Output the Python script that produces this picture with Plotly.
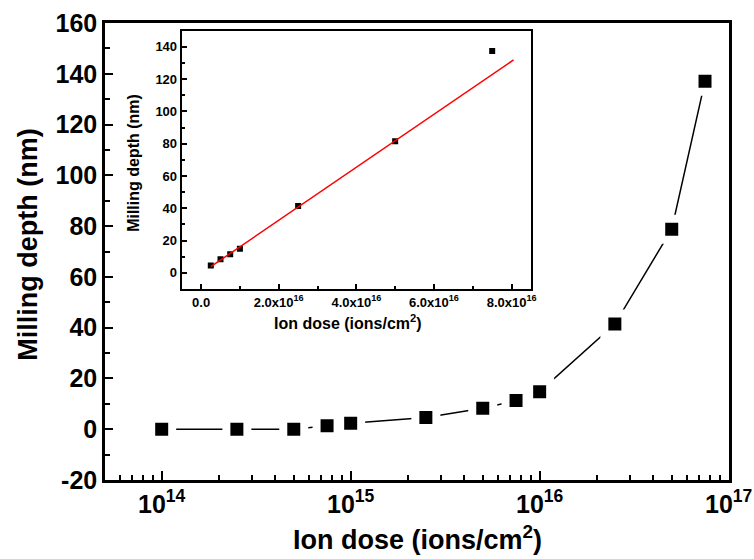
import plotly.graph_objects as go

# основной график: глубина травления в зависимости от дозы ионов (лог. шкала по x)
dose = [1e14, 2.5e14, 5e14, 7.5e14, 1e15, 2.5e15, 5e15, 7.5e15, 1e16, 2.5e16, 5e16, 7.5e16]
depth = [0.0, 0.0, 0.0, 1.4, 2.4, 4.6, 8.3, 11.3, 14.8, 41.4, 78.8, 137.1]

# вставка: те же данные в линейной шкале + линейная аппроксимация (красная линия)
ins_dose = [2.5e15, 5e15, 7.5e15, 1e16, 2.5e16, 5e16, 7.5e16]
ins_depth = [4.5, 8.4, 11.5, 15.0, 41.4, 81.5, 137.5]
fit_dose = [2.5e15, 8.05e16]
fit_depth = [3.8, 131.9]

# подписи делений
main_xticks = [1e14, 1e15, 1e16, 1e17]
main_xtext = ["10<sup>14</sup>", "10<sup>15</sup>", "10<sup>16</sup>", "10<sup>17</sup>"]
main_xminor = [k * 10.0 ** e for e in range(13, 17) for k in range(2, 10)]
main_yticks = [-20, 0, 20, 40, 60, 80, 100, 120, 140, 160]
main_ytext = ["-20", "0", "20", "40", "60", "80", "100", "120", "140", "160"]
ins_xticks = [0, 2e16, 4e16, 6e16, 8e16]
ins_xtext = ["0.0", "2.0x10<sup>16</sup>", "4.0x10<sup>16</sup>",
             "6.0x10<sup>16</sup>", "8.0x10<sup>16</sup>"]

FONT = "Liberation Sans, Arial, sans-serif"

fig = go.Figure()

# основная кривая: белая обводка маркеров даёт разрывы линии у точек, как в Origin
fig.add_trace(go.Scatter(x=dose, y=depth, mode='lines+markers',
                         line=dict(color='black', width=1.5),
                         marker=dict(symbol='square', size=21, color='black',
                                     line=dict(color='white', width=8)),
                         xaxis='x', yaxis='y'))

# вставка
fig.add_trace(go.Scatter(x=ins_dose, y=ins_depth, mode='markers',
                         marker=dict(symbol='square', size=6, color='black'),
                         xaxis='x2', yaxis='y2'))
fig.add_trace(go.Scatter(x=fit_dose, y=fit_depth, mode='lines',
                         line=dict(color='red', width=1.5),
                         xaxis='x2', yaxis='y2'))

axis_common = dict(showline=True, linecolor='black', mirror=True, showgrid=False,
                   zeroline=False, ticks='inside', tickcolor='black', automargin=False)

fig.update_layout(
    width=754, height=559,
    margin=dict(l=105, r=25, t=23, b=79, autoexpand=False),
    plot_bgcolor='white', paper_bgcolor='white',
    showlegend=False,
    font=dict(family=FONT, color='black'),
    xaxis=dict(**axis_common, type='log', range=[13.7, 17.002], domain=[0, 1],
               linewidth=2.5, ticklen=9, tickwidth=2,
               tickmode='array', tickvals=main_xticks, ticktext=main_xtext,
               tickfont=dict(size=25, weight='bold'),
               minor=dict(ticks='inside', ticklen=5, tickwidth=2, tickcolor='black',
                          tickmode='array', tickvals=main_xminor)),
    yaxis=dict(**axis_common, range=[-20, 160], domain=[0, 1],
               linewidth=2.5, ticklen=8, tickwidth=2,
               tickmode='array', tickvals=main_yticks, ticktext=main_ytext,
               tickfont=dict(size=25, weight='bold'),
               minor=dict(ticks='inside', ticklen=5, tickwidth=2, tickcolor='black',
                          tick0=0, dtick=10)),
    xaxis2=dict(**axis_common, anchor='y2', domain=[0.1229, 0.6827],
                range=[-0.5e16, 8.5e16], linewidth=2, ticklen=5, tickwidth=1.5,
                tickmode='array', tickvals=ins_xticks, ticktext=ins_xtext,
                tickfont=dict(size=13, weight='bold'),
                minor=dict(ticks='inside', ticklen=3, tickwidth=1.5, tickcolor='black',
                           tick0=0, dtick=1e16)),
    yaxis2=dict(**axis_common, anchor='x2', domain=[0.418, 0.983],
                range=[-10, 150], linewidth=2, ticklen=5, tickwidth=1.5,
                tick0=0, dtick=20,
                tickfont=dict(size=13, weight='bold'),
                minor=dict(ticks='inside', ticklen=3, tickwidth=1.5, tickcolor='black', dtick=10)),
)

# подписи осей — аннотациями, чтобы точно поставить их на место
titles = [
    dict(text='Ion dose (ions/cm<sup>2</sup>)', x=0.5, y=-0.127, size=27, angle=0),
    dict(text='Milling depth (nm)', x=-0.124, y=0.514, size=27, angle=-90),
    dict(text='Ion dose (ions/cm<sup>2</sup>)', x=0.389, y=0.346, size=16, angle=0),
    dict(text='Milling depth (nm)', x=0.0465, y=0.694, size=16, angle=-90),
]
for t in titles:
    fig.add_annotation(text=t['text'], x=t['x'], y=t['y'], xref='paper', yref='paper',
                       xanchor='center', yanchor='middle', showarrow=False,
                       textangle=t['angle'], font=dict(size=t['size'], weight='bold'))

# убираем стандартный отступ body, чтобы картинка начиналась с (0, 0); панель инструментов не нужна
fig.write_html("out.html", config={'displayModeBar': False},
               post_script="document.body.style.margin='0';")
